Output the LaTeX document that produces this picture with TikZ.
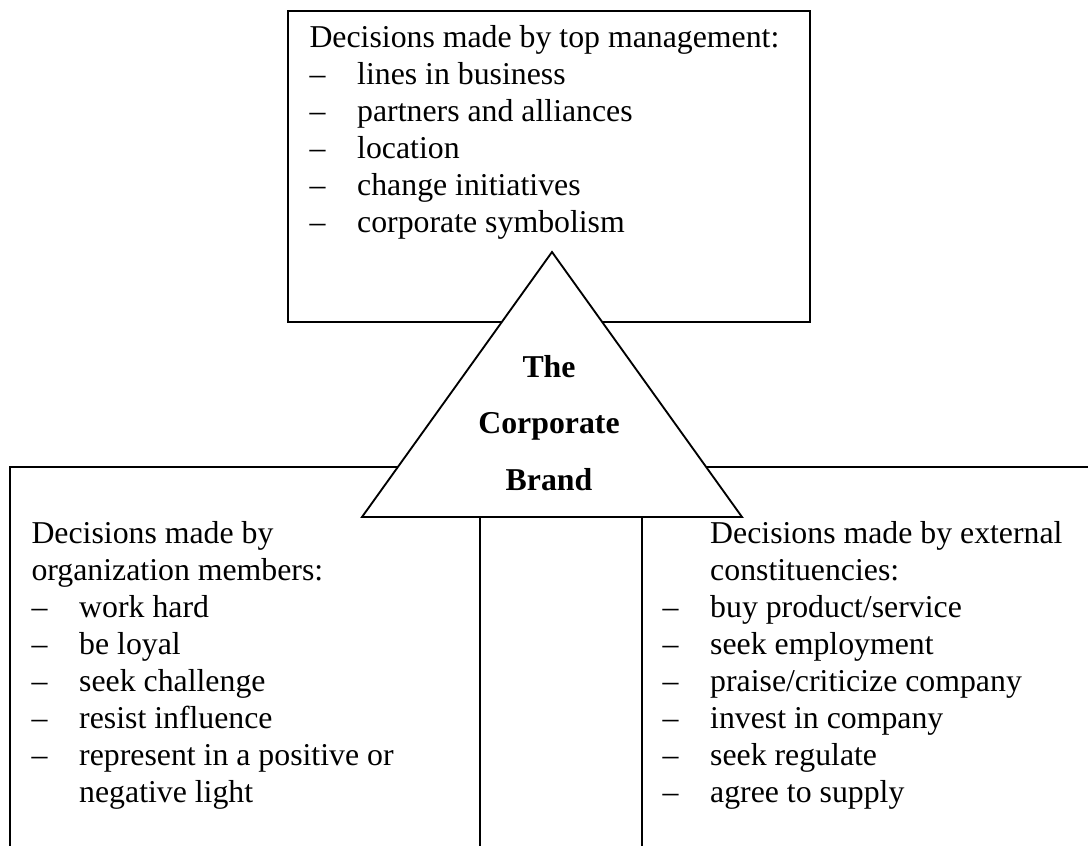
\documentclass[tikz,border=0pt]{standalone}
\usepackage{fontspec}
\setmainfont{Liberation Serif}
\usetikzlibrary{positioning}

\newcommand{\dashitem}[1]{\makebox[18pt][l]{–}#1}

\begin{document}
\begin{tikzpicture}[x=0.3774pt, y=-0.3774pt,
		frame/.style={line width=0.7pt},
		list/.style={anchor=base west, align=left, inner sep=0pt, font=\fontsize{12}{13.96}\selectfont},
		brandtext/.style={anchor=base, align=center, inner sep=0pt, font=\fontsize{12}{21.3}\selectfont\bfseries}]
			\useasboundingbox (0,0) rectangle (1088,845);
			\clip (0,0) rectangle (1088,845);

			% boxes
			\draw[frame] (288,11) rectangle (810,322);
			\draw[frame] (10,860) -- (10,467) -- (480,467) -- (480,860);
			\draw[frame] (642,860) -- (642,467) -- (1100,467);

			% triangle
			\coordinate (apex) at (552,252);
			\coordinate (baseL) at (362,517);
			\coordinate (baseR) at (742,517);
			\filldraw[frame, fill=white] (apex) -- (baseL) -- (baseR) -- cycle;
			% base anchor = baseline of the last line
			\node[brandtext] (brand) at (549,490) {The\\Corporate\\Brand};

			\node[list] (topmgmt) at (309,232.7) {Decisions made by top management:\\
				\dashitem{lines in business}\\
				\dashitem{partners and alliances}\\
				\dashitem{location}\\
				\dashitem{change initiatives}\\
				\dashitem{corporate symbolism}};
			\node[list] (members) at (31,802) {Decisions made by\\
				organization members:\\
				\dashitem{work hard}\\
				\dashitem{be loyal}\\
				\dashitem{seek challenge}\\
				\dashitem{resist influence}\\
				\dashitem{represent in a positive or}\\
				\hspace*{18pt}negative light};
			\node[list] (external) at (662,802) {\hspace*{18pt}Decisions made by external\\
				\hspace*{18pt}constituencies:\\
				\dashitem{buy product/service}\\
				\dashitem{seek employment}\\
				\dashitem{praise/criticize company}\\
				\dashitem{invest in company}\\
				\dashitem{seek regulate}\\
				\dashitem{agree to supply}};

		\end{tikzpicture}
\end{document}
